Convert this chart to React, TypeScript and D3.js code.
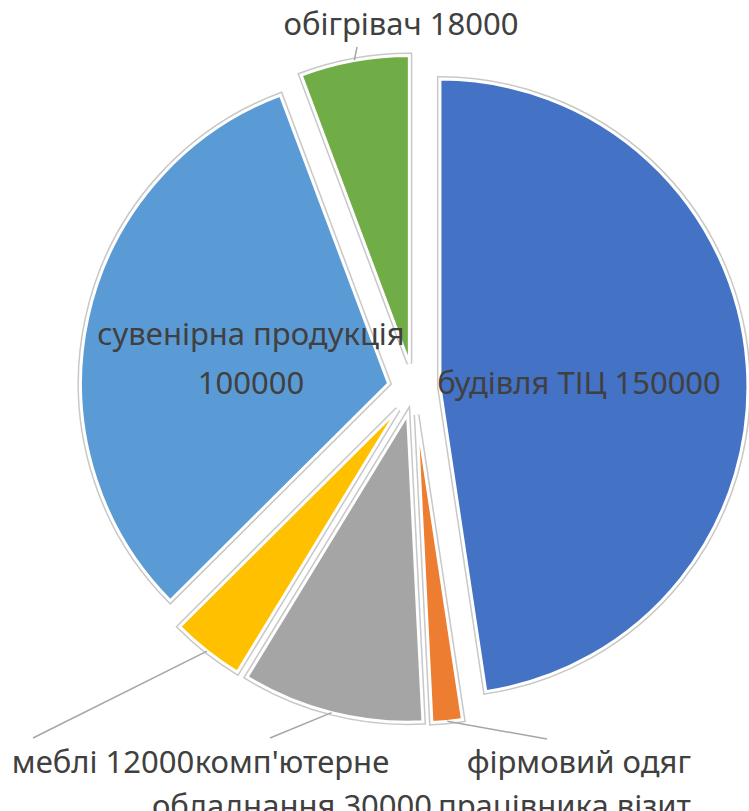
import React from "react";
import * as d3 from "d3";

const categories = [
  "будівля ТІЦ",
  "фірмовий одяг працівника візит",
  "комп'ютерне обладнання",
  "меблі",
  "сувенірна продукція",
  "обігрівач",
];
const values = [150000, 5000, 30000, 12000, 100000, 18000];
const colors = ["#4472C4", "#ED7D31", "#A5A5A5", "#FFC000", "#5B9BD5", "#70AD47"];
const labelLines = [
  ["будівля ТІЦ 150000"],
  ["фірмовий одяг", "працівника візит"],
  ["комп'ютерне", "обладнання 30000"],
  ["меблі 12000"],
  ["сувенірна продукція", "100000"],
  ["обігрівач 18000"],
];

// layout (positions only)
const W = 749;
const H = 811;
const CX = 414;
const CY = 389;
const R = 308;
const EXPLODE = 26;
const FONT = 31;
const labelLayout = [
  { x: 579, y: 394, anchor: "middle", lh: 49, leader: null as null | [number, number] },
  { x: 691, y: 773, anchor: "end", lh: 44, leader: [547, 739] as [number, number] },
  { x: 292, y: 773, anchor: "middle", lh: 44, leader: [270, 738] as [number, number] },
  { x: 103, y: 773, anchor: "middle", lh: 44, leader: [33, 738] as [number, number] },
  { x: 251, y: 345, anchor: "middle", lh: 49, leader: null },
  { x: 401, y: 35, anchor: "middle", lh: 36, leader: [357, 47] as [number, number] },
];

export default function App() {
  const data = categories.map((c, i) => ({ name: c, value: values[i], i }));
  const pie = d3
    .pie<{ name: string; value: number; i: number }>()
    .sort(null)
    .value((d) => d.value)
    .startAngle(0)
    .endAngle(2 * Math.PI);
  const arcs = pie(data);
  const arc = d3
    .arc<d3.PieArcDatum<{ name: string; value: number; i: number }>>()
    .innerRadius(0)
    .outerRadius(R);
  const edgeArc = d3
    .arc<d3.PieArcDatum<{ name: string; value: number; i: number }>>()
    .innerRadius(R)
    .outerRadius(R);

  return (
    <svg
      width={W}
      height={H}
      viewBox={`0 0 ${W} ${H}`}
      style={{ position: "absolute", left: 0, top: 0, background: "#ffffff" }}
    >
      <g>
        {arcs.map((a) => {
          const mid = (a.startAngle + a.endAngle) / 2;
          const dx = Math.sin(mid) * EXPLODE;
          const dy = -Math.cos(mid) * EXPLODE;
          const p = arc(a) || "";
          return (
            <g key={a.data.name} transform={`translate(${CX + dx},${CY + dy})`}>
              <path d={p} fill="none" stroke="#c8c8c8" strokeWidth={6} strokeLinejoin="miter" />
              <path d={p} fill={colors[a.data.i]} stroke="#ffffff" strokeWidth={3} strokeLinejoin="miter" />
            </g>
          );
        })}
      </g>
      <g>
        {arcs.map((a) => {
          const L = labelLayout[a.data.i];
          if (!L.leader) return null;
          const mid = (a.startAngle + a.endAngle) / 2;
          const dx = Math.sin(mid) * EXPLODE;
          const dy = -Math.cos(mid) * EXPLODE;
          const [ex, ey] = edgeArc.centroid(a);
          return (
            <line
              key={"l" + a.data.name}
              x1={CX + dx + ex}
              y1={CY + dy + ey}
              x2={L.leader[0]}
              y2={L.leader[1]}
              stroke="#a6a6a6"
              strokeWidth={1.5}
            />
          );
        })}
      </g>
      <g fontFamily="'Noto Sans', 'Open Sans', sans-serif" fontSize={FONT} fill="#404040">
        {arcs.map((a) => {
          const L = labelLayout[a.data.i];
          return (
            <text key={"t" + a.data.name} textAnchor={L.anchor as any}>
              {labelLines[a.data.i].map((line, k) => (
                <tspan key={k} x={L.x} y={L.y + k * L.lh}>
                  {line}
                </tspan>
              ))}
            </text>
          );
        })}
      </g>
    </svg>
  );
}
